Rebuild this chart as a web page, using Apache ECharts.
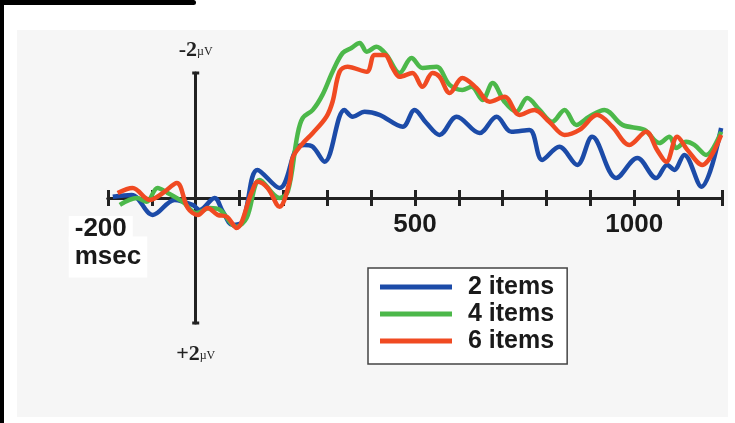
<!DOCTYPE html>
<html>
<head>
<meta charset="utf-8">
<script src="https://cdn.jsdelivr.net/npm/echarts@6/dist/echarts.min.js"></script>
<style>
  html, body { margin: 0; padding: 0; background: #fff; }
  #chart { width: 735px; height: 423px; }
</style>
</head>
<body>
<div id="chart"></div>
<script>
// ERP waveforms, time in msec, amplitude in µV (negative plotted up)
const seriesNames = ['2 items', '4 items', '6 items'];
const seriesColors = ['#1c4ba8', '#4cb84a', '#f04a22'];

const times2 = [-189, -146, -98, -48, -7, 9, 43, 62, 84, 107, 141, 191, 230, 248, 267, 294, 339, 358, 385, 419, 472, 499, 526, 556, 595, 647, 686, 720, 761, 790, 829, 870, 904, 959, 1007, 1050, 1075, 1091, 1114, 1153, 1198];
const values2 = [-0.02, -0.05, 0.27, 0.03, 0.11, 0.19, 0.0, 0.22, 0.43, 0.38, -0.45, -0.16, -0.80, -0.85, -0.82, -0.58, -1.41, -1.30, -1.38, -1.33, -1.14, -1.41, -1.20, -1.01, -1.30, -1.04, -1.30, -1.06, -1.09, -0.61, -0.82, -0.53, -0.98, -0.32, -0.64, -0.32, -0.53, -0.45, -0.69, -0.18, -1.12];

const times4 = [-173, -134, -112, -87, -64, -30, 2, 32, 55, 93, 116, 146, 191, 210, 232, 244, 267, 289, 312, 335, 355, 374, 390, 412, 435, 465, 492, 517, 549, 579, 608, 629, 654, 677, 704, 731, 756, 784, 813, 841, 868, 897, 932, 973, 1023, 1057, 1080, 1096, 1118, 1137, 1164, 1198];
const values4 = [0.11, 0.0, 0.06, -0.16, -0.08, 0.06, 0.24, 0.16, 0.19, 0.46, 0.32, -0.29, 0.0, -0.10, -1.01, -1.28, -1.41, -1.65, -2.02, -2.32, -2.40, -2.48, -2.34, -2.42, -2.29, -2.00, -2.24, -2.08, -2.10, -1.81, -1.73, -1.78, -1.57, -1.84, -1.54, -1.38, -1.60, -1.41, -1.22, -1.41, -1.17, -1.30, -1.41, -1.17, -1.09, -0.88, -0.98, -0.80, -0.90, -0.85, -0.69, -1.06];

const times6 = [-178, -144, -105, -75, -43, -18, 5, 27, 50, 71, 93, 128, 141, 164, 191, 214, 221, 241, 267, 298, 312, 328, 346, 390, 408, 431, 449, 465, 494, 517, 540, 556, 579, 608, 640, 670, 704, 738, 772, 806, 841, 875, 916, 950, 989, 1027, 1052, 1073, 1098, 1121, 1155, 1198];
const values6 = [-0.08, -0.16, 0.03, -0.08, -0.24, 0.16, 0.27, 0.16, 0.27, 0.30, 0.48, -0.10, -0.26, -0.16, 0.14, -0.26, -0.64, -0.85, -1.04, -1.30, -1.54, -2.02, -2.10, -2.02, -2.29, -2.29, -2.08, -1.94, -2.00, -1.78, -2.00, -1.94, -1.68, -1.92, -1.76, -1.54, -1.62, -1.33, -1.41, -1.22, -1.01, -1.09, -1.33, -1.14, -0.85, -1.06, -0.77, -0.58, -0.98, -0.77, -0.53, -1.01];

const xTickLabels = { '-200': '{a|-200}\n{m|msec}', '500': '500', '1000': '1000' };

const zip = (ts, vs) => ts.map((t, i) => [t, vs[i]]);
const seriesData = [zip(times2, values2), zip(times4, values4), zip(times6, values6)];

const chart = echarts.init(document.getElementById('chart'));

const axisColor = '#222';
const sansBold = { fontFamily: 'Liberation Sans, Arial, sans-serif', fontWeight: 'bold', color: '#1a1a1a' };
const serif = 'Liberation Serif, Times New Roman, serif';

// grid 0: data + vertical amplitude line, grid 1: upper half (time axis at its bottom = zero line),
// grid 2: lower half (time axis ticks pointing up, "+2µV" name)
const gridBase = { left: 108, right: 13, outerBoundsMode: 'none' };

const timeAxis = (gridIndex, position, extra) => ({
  type: 'value', gridIndex, position, min: -200, max: 1200, interval: 100,
  axisLine: { onZero: false, lineStyle: { color: axisColor, width: 3 } },
  axisTick: { length: 8, lineStyle: { color: axisColor, width: 3 } },
  splitLine: { show: false },
  ...extra
});

const nameRich = {
  rich: {
    n: { fontFamily: serif, fontWeight: 'bold', fontSize: 22, color: '#222' },
    u: { fontFamily: serif, fontSize: 12, color: '#222', padding: [4, 0, 0, 0] }
  }
};

// invisible half-axes that only carry the "-2µV" / "+2µV" names at x = 0
const nameAxis = (gridIndex, name, inverse, nameGap) => ({
  type: 'value', gridIndex, min: 0, max: 2, inverse,
  axisLine: { show: false, onZero: true },
  axisTick: { show: false },
  axisLabel: { show: false },
  splitLine: { show: false },
  name, nameLocation: 'end', nameGap, nameTextStyle: nameRich
});

const option = {
  backgroundColor: '#fff',
  animation: false,
  graphic: [
    { type: 'rect', z: -10, shape: { x: 17, y: 30, width: 711, height: 387 }, style: { fill: '#f6f6f6' } },
    { type: 'rect', z: 10, shape: { x: 0, y: 0, width: 196, height: 5, r: [0, 3, 3, 0] }, style: { fill: '#000' } },
    { type: 'rect', z: 10, shape: { x: 0, y: 0, width: 4, height: 423 }, style: { fill: '#000' } }
  ],
  grid: [
    { ...gridBase, top: 73, bottom: 100 },
    { ...gridBase, top: 73, bottom: 225 },
    { ...gridBase, top: 198, bottom: 100 }
  ],
  xAxis: [
    timeAxis(0, 'bottom', { show: false }),
    timeAxis(1, 'bottom', {
      axisLabel: {
        margin: 14,
        ...sansBold, fontSize: 26,
        formatter: v => xTickLabels[String(v)] || '',
        rich: {
          a: { ...sansBold, fontSize: 26, lineHeight: 34, backgroundColor: '#fff', align: 'left', padding: [0, 6, 0, 6] },
          m: { ...sansBold, fontSize: 26, lineHeight: 22, backgroundColor: '#fff', align: 'left', padding: [7, 6, 8, 6] }
        }
      }
    }),
    timeAxis(2, 'top', { axisLabel: { show: false } })
  ],
  yAxis: [
    {
      type: 'value', gridIndex: 0, min: -2, max: 2, interval: 4, inverse: true,
      axisLine: {
        onZero: true, symbol: ['rect', 'rect'], symbolSize: [7, 3],
        lineStyle: { color: axisColor, width: 3 }
      },
      axisTick: { show: false },
      axisLabel: { show: false },
      splitLine: { show: false }
    },
    nameAxis(1, '{n|-2}{u|µV}', false, 12),
    nameAxis(2, '{n|+2}{u|µV}', true, 20)
  ],
  legend: {
    orient: 'vertical', left: 368, top: 268,
    padding: [6, 13, 10, 12], itemGap: 1,
    backgroundColor: '#fff', borderColor: '#444', borderWidth: 1.5,
    icon: 'rect', itemWidth: 72, itemHeight: 5,
    textStyle: { ...sansBold, fontSize: 25, lineHeight: 26, padding: [0, 0, 0, 11] },
    data: seriesNames
  },
  series: seriesNames.map((name, i) => ({
    name,
    type: 'line',
    xAxisIndex: 0,
    yAxisIndex: 0,
    data: seriesData[i],
    smooth: 0.35,
    showSymbol: false,
    clip: false,
    z: 3 + i,
    lineStyle: { color: seriesColors[i], width: 4.5 },
    itemStyle: { color: seriesColors[i] }
  }))
};

chart.setOption(option);
</script>
</body>
</html>
